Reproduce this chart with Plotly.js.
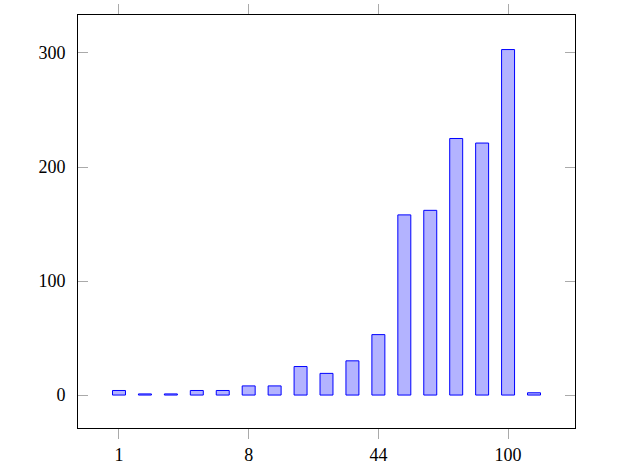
<!DOCTYPE html>
<html>
<head>
<meta charset="utf-8">
<script src="https://cdn.plot.ly/plotly-3.0.1.min.js"></script>
<style>html,body{margin:0;padding:0;background:#fff;}#chart{width:623px;height:470px;}</style>
</head>
<body>
<div id="chart"></div>
<script>
const barIndex = [0,1,2,3,4,5,6,7,8,9,10,11,12,13,14,15,16];
const barValues = [4,1,1,4,4,8,8,25,19,30,53,158,162,225,221,303,2];
const xTickPositions = [0,5,10,15];
const xTickLabels = ['1','8','44','100'];
const yTicks = [0,100,200,300];

const trace = {
  type: 'bar',
  x: barIndex,
  y: barValues,
  width: 0.5,
  marker: {color: 'rgb(179,179,255)', line: {color: 'rgb(0,0,255)', width: 1}},
  hoverinfo: 'none'
};

const font = {family: '"Liberation Serif", "DejaVu Serif", serif', size: 18, color: '#000'};

const layout = {
  width: 623, height: 470,
  margin: {l: 78, r: 48, t: 15, b: 42},
  paper_bgcolor: '#fff', plot_bgcolor: '#fff',
  showlegend: false,
  font: font,
  xaxis: {
    range: [-1.58, 17.58],
    tickmode: 'array', tickvals: xTickPositions, ticktext: xTickLabels,
    ticks: 'outside', ticklen: 10, tickcolor: '#aaa', tickwidth: 1,
    mirror: 'ticks', showline: true, linecolor: '#000', linewidth: 1,
    showgrid: false, zeroline: false, tickfont: font
  },
  yaxis: {
    range: [-28.9, 333.3],
    tickmode: 'array', tickvals: yTicks,
    ticks: 'inside', ticklen: 10, tickcolor: '#aaa', tickwidth: 1,
    mirror: 'ticks', showline: true, linecolor: '#000', linewidth: 1,
    showgrid: false, zeroline: false, tickfont: font, ticklabelstandoff: 8
  }
};

Plotly.newPlot('chart', [trace], layout, {staticPlot: true, displayModeBar: false});
</script>
</body>
</html>
